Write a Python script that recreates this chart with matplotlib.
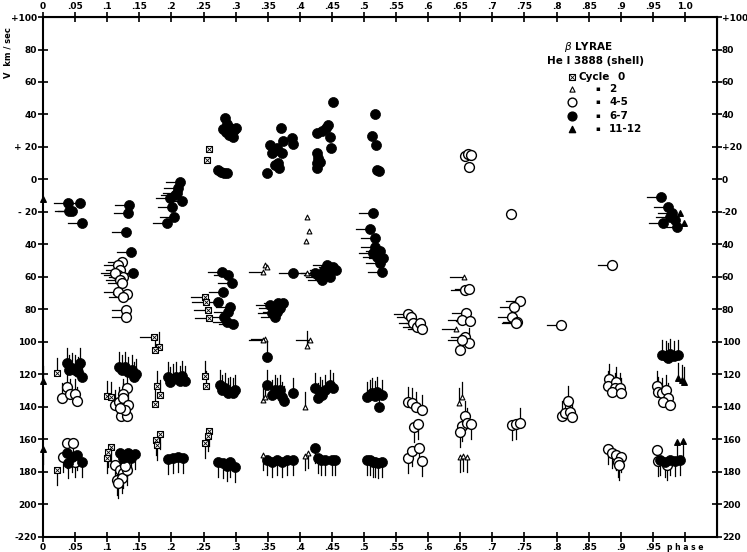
import numpy as np
import matplotlib
matplotlib.use("Agg")
import matplotlib.pyplot as plt

# ---- data: phase, radial velocity (km/sec) per cycle group ----
# Cycle 6-7 (filled circles)
c67_phase = [0.039, 0.045, 0.058, 0.061, 0.040,
             0.134, 0.132, 0.129, 0.137, 0.140,
             0.213, 0.210, 0.209, 0.198, 0.201, 0.217, 0.204, 0.193, 0.206,
             0.283, 0.287, 0.280, 0.291, 0.298, 0.285, 0.290, 0.296, 0.301, 0.287,
             0.273, 0.277, 0.282, 0.287,
             0.349, 0.354, 0.357, 0.361, 0.366, 0.371, 0.374, 0.364, 0.372, 0.388, 0.389, 0.360, 0.368,
             0.427, 0.428, 0.427, 0.431, 0.427, 0.427, 0.435, 0.444, 0.447, 0.449, 0.452, 0.441,
             0.517, 0.512, 0.519, 0.520, 0.523,
             0.514, 0.509, 0.517, 0.517, 0.514, 0.520, 0.525, 0.530, 0.525, 0.528,
             0.279, 0.288, 0.294, 0.280, 0.273, 0.291, 0.288, 0.282, 0.287, 0.296,
             0.354, 0.358, 0.366, 0.374, 0.357, 0.364, 0.361, 0.369, 0.389, 0.349,
             0.424, 0.431, 0.447, 0.435, 0.442, 0.452, 0.428, 0.438, 0.456, 0.444,
             0.963, 0.974, 0.980, 0.984, 0.966, 0.988, 0.977,
             0.037, 0.045, 0.040, 0.050, 0.058, 0.055, 0.061,
             0.118, 0.128, 0.139, 0.142, 0.123, 0.132, 0.145,
             0.195, 0.202, 0.213, 0.221, 0.198, 0.207, 0.217,
             0.276, 0.283, 0.291, 0.296, 0.279, 0.288, 0.299,
             0.349, 0.357, 0.364, 0.372, 0.375, 0.389, 0.361, 0.369,
             0.424, 0.431, 0.439, 0.447, 0.428, 0.452, 0.435,
             0.505, 0.512, 0.520, 0.523, 0.509, 0.528, 0.517,
             0.964, 0.970, 0.977, 0.983, 0.989, 0.974,
             0.037, 0.045, 0.053, 0.061, 0.039,
             0.120, 0.132, 0.143, 0.125, 0.137, 0.129,
             0.195, 0.202, 0.210, 0.218,
             0.273, 0.280, 0.291, 0.299, 0.287,
             0.349, 0.357, 0.364, 0.372, 0.380, 0.389,
             0.424, 0.428, 0.439, 0.450, 0.455, 0.433,
             0.505, 0.514, 0.522, 0.509, 0.517, 0.528,
             0.961, 0.969, 0.977, 0.984, 0.992]
c67_vel = [-14.5, -19.4, -14.5, -26.8, -19.4,
           -15.7, -20.6, -32.3, -44.6, -57.5,
           -1.5, -5.2, -8.3, -11.4, -16.9, -13.2, -23.1, -26.8, -9.5,
           37.8, 34.2, 31.1, 31.7, 30.5, 29.2, 27.4, 26.2, 31.7, 31.7,
           5.8, 4.6, 4.0, 4.0,
           4.0, 21.2, 16.3, 8.9, 10.2, 31.7, 23.7, 19.4, 16.3, 25.5, 21.8, 17.5, 7.0,
           16.3, 13.2, 10.2, 10.8, 7.1, 28.6, 29.8, 33.5, 26.2, 19.4, 47.7, 31.7,
           40.3, 26.8, 21.2, 5.8, 5.2,
           -20.6, -30.5, -36.0, -41.5, -45.2, -47.7, -44.0, -48.3, -51.4, -56.9,
           -56.9, -58.8, -63.7, -69.2, -75.4, -78.5, -81.5, -84.6, -87.7, -88.9,
           -77.2, -79.1, -76.0, -76.0, -82.2, -81.5, -84.6, -79.1, -57.5, -109.2,
           -57.5, -60.0, -60.0, -61.8, -52.6, -53.8, -58.8, -55.7, -55.7, -57.0,
           -10.8, -16.9, -20.6, -24.9, -26.8, -29.2, -23.1,
           -112.9, -116.0, -117.2, -117.2, -112.9, -118.5, -121.5,
           -115.4, -115.4, -117.2, -121.5, -117.2, -118.5, -119.7,
           -121.5, -122.8, -124.0, -124.0, -124.6, -121.5, -121.0,
           -126.5, -128.3, -130.8, -131.4, -129.5, -131.4, -129.5,
           -126.5, -132.6, -131.4, -133.8, -136.3, -131.4, -129.5, -129.5,
           -128.3, -130.8, -129.5, -126.5, -134.5, -128.3, -132.6,
           -133.8, -131.4, -130.8, -140.0, -132.6, -132.6, -133.2,
           -108.0, -108.6, -107.4, -108.6, -108.0, -109.8,
           -168.3, -170.8, -169.5, -173.8, -174.5,
           -168.3, -168.3, -168.9, -171.4, -171.4, -169.5,
           -172.0, -171.4, -170.8, -171.4,
           -173.8, -174.5, -173.8, -176.9, -176.3,
           -172.6, -173.8, -172.6, -173.8, -172.6, -172.6,
           -165.2, -171.4, -172.6, -172.6, -172.6, -172.6,
           -172.6, -173.8, -174.5, -172.6, -173.8, -173.8,
           -172.6, -173.8, -172.6, -173.2, -172.6]

# Cycle 4-5 (open circles)
c45_phase = [0.123, 0.117, 0.120, 0.117, 0.125, 0.112, 0.120, 0.123, 0.117, 0.131, 0.125, 0.129, 0.129,
             0.037, 0.030, 0.042, 0.050, 0.053,
             0.131, 0.125, 0.112, 0.118, 0.125, 0.132, 0.121, 0.131, 0.128, 0.120,
             0.037, 0.047, 0.031, 0.050,
             0.112, 0.120, 0.125, 0.115, 0.123, 0.117, 0.131, 0.128,
             0.657, 0.662, 0.667, 0.664,
             0.729, 0.886,
             0.657, 0.664,
             0.569, 0.573, 0.576, 0.583, 0.587, 0.590,
             0.659, 0.653, 0.665,
             0.657, 0.664, 0.650, 0.653,
             0.743, 0.734, 0.731, 0.738, 0.737,
             0.807,
             0.569, 0.575, 0.581, 0.590, 0.578, 0.584,
             0.569, 0.575, 0.586, 0.590,
             0.657, 0.653, 0.660, 0.667, 0.650,
             0.731, 0.737, 0.743,
             0.818, 0.808, 0.813, 0.821, 0.824,
             0.882, 0.880, 0.893, 0.891, 0.899, 0.886, 0.900,
             0.880, 0.886, 0.893, 0.900, 0.896, 0.897,
             0.956, 0.958, 0.964, 0.970, 0.974, 0.966, 0.977,
             0.956, 0.958, 0.972]
c45_vel = [-50.8, -52.6, -55.7, -58.8, -60.0, -57.5, -61.8, -63.7, -69.2, -70.5, -72.3, -80.3, -84.6,
           -127.7, -134.2, -131.7, -131.7, -136.6,
           -128.3, -132.0, -138.8, -137.0, -134.5, -138.8, -145.5, -145.5, -141.8, -140.6,
           -162.2, -162.2, -170.8, -173.8,
           -175.7, -178.8, -180.6, -185.0, -183.7, -186.8, -178.8, -176.3,
           14.5, 15.7, 15.1, 7.7,
           -21.2, -52.6,
           -68.0, -67.4,
           -82.8, -84.6, -88.3, -90.8, -88.3, -92.0,
           -82.2, -86.5, -87.1,
           -96.9, -100.6, -104.9, -98.8,
           -74.8, -78.5, -84.6, -87.7, -88.3,
           -89.5,
           -136.9, -137.5, -140.0, -141.8, -152.3, -150.5,
           -171.4, -167.1, -165.2, -173.2,
           -145.5, -151.7, -149.8, -150.5, -155.4,
           -151.1, -150.5, -149.8,
           -136.3, -145.5, -143.7, -143.1, -146.2,
           -122.8, -127.1, -124.6, -128.3, -128.3, -130.8, -131.4,
           -165.8, -168.3, -169.5, -170.8, -173.8, -175.7,
           -127.1, -130.8, -131.4, -129.5, -134.5, -136.9, -138.8,
           -166.5, -173.2, -175.7]

# Cycle 0 (boxed crosses)
c0_phase = [0.259, 0.255, 0.252, 0.254, 0.257, 0.259, 0.173, 0.181, 0.174,
            0.022, 0.100, 0.106, 0.178, 0.182, 0.174, 0.252, 0.254,
            0.106, 0.101, 0.100, 0.176, 0.182, 0.178, 0.259, 0.257, 0.252, 0.022]
c0_vel = [18.8, 12.0, -72.3, -75.4, -80.3, -85.2, -96.9, -103.1, -104.9,
          -119.1, -133.2, -133.8, -127.1, -132.6, -138.2, -120.9, -127.1,
          -164.6, -167.7, -171.4, -160.3, -156.6, -163.4, -154.8, -157.8, -162.2, -178.8]

# Cycle 2 (open triangles)
c2_phase = [0.411, 0.414, 0.410, 0.346, 0.349, 0.343, 0.411, 0.346, 0.343, 0.416, 0.411,
            0.343, 0.346, 0.408, 0.656, 0.643, 0.653, 0.648, 0.650, 0.654, 0.660,
            0.343, 0.413, 0.408]
c2_vel = [-23.1, -31.7, -37.8, -52.6, -53.8, -56.9, -57.5, -98.2, -98.8, -98.8, -102.5,
          -136.0, -134.0, -140.0, -60.0, -92.0, -133.8, -137.5, -170.8, -170.2, -170.8,
          -169.5, -168.3, -170.0]

# Cycle 11-12 (filled triangles)
c1112_phase = [0.0, 0.0, 0.0, 0.992, 0.998, 0.989, 0.995, 0.999, 0.988, 0.997]
c1112_vel = [-12.0, -124.0, -166.0, -20.6, -26.8, -122.2, -123.4, -124.6, -161.5, -160.9]

xticks = np.round(np.arange(0, 1.0001, 0.05), 2)
top_labels = ["0", ".05", ".1", ".15", ".2", ".25", ".3", ".35", ".4", ".45", ".5",
              ".55", ".6", ".65", ".7", ".75", ".8", ".85", ".9", ".95", "1.0"]
bottom_labels = top_labels[:-1] + ["p h a s e"]
yticks = np.arange(-220, 101, 20)
left_labels = ["-220", "200", "180", "160", "140", "120", "100", "80", "60", "40",
               "- 20", "0", "+ 20", "40", "60", "80", "+100"]
right_labels = ["220", "200", "180", "160", "140", "120", "100", "80", "60", "40",
                "-20", "0", "+20", "40", "60", "80", "+100"]

# ---- figure ----
fig = plt.figure(figsize=(7.47, 5.52), dpi=100)
ax = fig.add_axes([0.0576, 0.0272, 0.9023, 0.942])
ax.set_xlim(0, 1.05)
ax.set_ylim(-220, 100)

TAIL_H = 0.022
TAIL_V = 9.0


def draw_tails(ph, vel, top_cut=0.0):
    # short error strokes: left for upper points, up/down for the lower bands
    for p, v in zip(ph, vel):
        if v > top_cut:
            continue
        if v > -100:
            ax.plot([p - TAIL_H, p], [v, v], color="black", lw=0.9, zorder=1)
        elif v > -150:
            ax.plot([p, p], [v, v + TAIL_V], color="black", lw=0.9, zorder=1)
        else:
            ax.plot([p, p], [v, v - TAIL_V], color="black", lw=0.9, zorder=1)


draw_tails(c67_phase, c67_vel)
draw_tails(c45_phase, c45_vel, top_cut=-30)
draw_tails(c0_phase, c0_vel)
draw_tails(c2_phase, c2_vel, top_cut=-55)
draw_tails(c1112_phase, c1112_vel, top_cut=-100)

ax.scatter(c45_phase, c45_vel, s=50, marker="o", facecolor="white", edgecolor="black",
           linewidths=1.0, zorder=3)
ax.scatter(c67_phase, c67_vel, s=52, marker="o", facecolor="black", edgecolor="black",
           linewidths=0.5, zorder=4)
ax.scatter(c0_phase, c0_vel, s=14, marker="s", facecolor="white", edgecolor="black",
           linewidths=0.8, zorder=5)
ax.scatter(c0_phase, c0_vel, s=10, marker="x", color="black", linewidths=0.6, zorder=6)
ax.scatter(c2_phase, c2_vel, s=12, marker="^", facecolor="white", edgecolor="black",
           linewidths=0.8, zorder=5)
ax.scatter(c1112_phase, c1112_vel, s=16, marker="^", color="black", zorder=5, clip_on=False)

# ---- axes styling ----
for sp in ax.spines.values():
    sp.set_linewidth(1.5)
ax.set_xticks(xticks)
ax.set_xticklabels(bottom_labels)
ax.set_yticks(yticks)
ax.set_yticklabels(left_labels)
ax.tick_params(direction="inout", length=7, width=1.2, labelsize=6.5, pad=1)
for lab in ax.get_xticklabels() + ax.get_yticklabels():
    lab.set_fontweight("bold")
ax.get_xticklabels()[-1].set_fontsize(5.5)

top = ax.secondary_xaxis("top")
top.set_xticks(xticks, top_labels)
top.tick_params(direction="inout", length=7, width=1.2, labelsize=6.5, pad=1)
right = ax.secondary_yaxis("right")
right.set_yticks(yticks, right_labels)
right.tick_params(direction="inout", length=7, width=1.2, labelsize=6.5, pad=0)
for lab in top.get_xticklabels() + right.get_yticklabels():
    lab.set_fontweight("bold")

fig.text(0.011, 0.905, "V  km / sec", rotation=90, ha="center", va="center",
         fontsize=6, fontweight="bold")

# ---- legend block ----
tr = ax.transAxes
ax.text(0.809, 0.942, r"$\beta$ LYRAE", transform=tr, ha="center", va="center",
        fontsize=7.5, fontweight="bold")
ax.text(0.819, 0.915, "He I 3888 (shell)", transform=tr, ha="center", va="center",
        fontsize=7.5, fontweight="bold")
rows_y = [0.885, 0.862, 0.837, 0.810, 0.785]
leg_vals = ["0", "2", "4-5", "6-7", "11-12"]
mx = 0.785
ax.scatter([mx], [rows_y[0]], s=14, marker="s", facecolor="white", edgecolor="black",
           linewidths=0.8, transform=tr, zorder=6)
ax.scatter([mx], [rows_y[0]], s=10, marker="x", color="black", linewidths=0.6,
           transform=tr, zorder=7)
ax.scatter([mx], [rows_y[1]], s=14, marker="^", facecolor="white", edgecolor="black",
           linewidths=0.8, transform=tr)
ax.scatter([mx], [rows_y[2]], s=40, marker="o", facecolor="white", edgecolor="black",
           linewidths=1.0, transform=tr)
ax.scatter([mx], [rows_y[3]], s=40, marker="o", color="black", transform=tr)
ax.scatter([mx], [rows_y[4]], s=20, marker="^", color="black", transform=tr)
ax.text(0.795, rows_y[0], "Cycle", transform=tr, ha="left", va="center",
        fontsize=7.5, fontweight="bold")
ax.text(0.852, rows_y[0], "0", transform=tr, ha="left", va="center",
        fontsize=7.5, fontweight="bold")
for yy, val in zip(rows_y[1:], leg_vals[1:]):
    ax.text(0.823, yy, "\u25aa", transform=tr, ha="center", va="center", fontsize=5)
    ax.text(0.840, yy, val, transform=tr, ha="left", va="center",
            fontsize=7.5, fontweight="bold")

fig.savefig("out.png", dpi=100)
